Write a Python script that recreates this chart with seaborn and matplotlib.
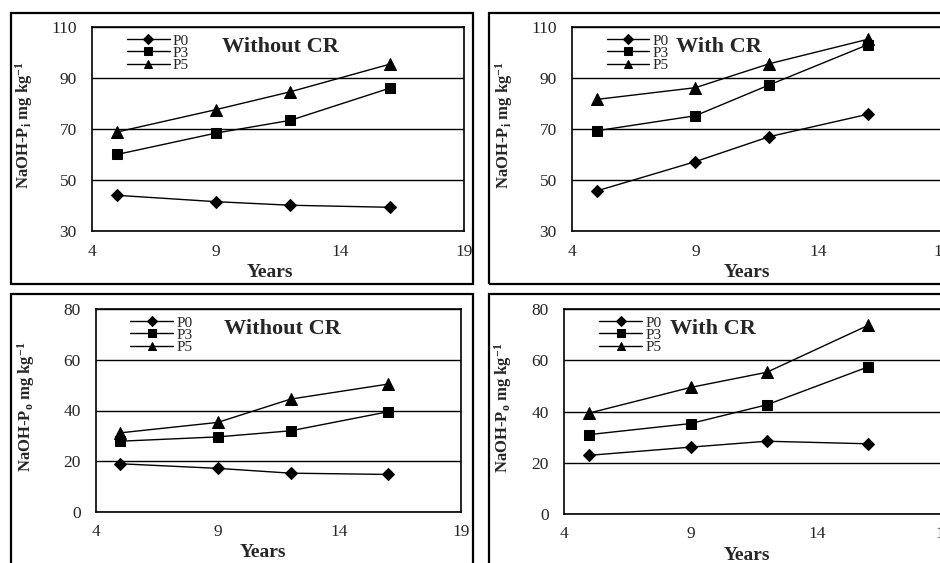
import numpy as np
import pandas as pd
import matplotlib
matplotlib.use("Agg")
import matplotlib.pyplot as plt
from matplotlib.patches import Rectangle
import seaborn as sns

# data
years = [5, 9, 12, 16]
series_names = ["P0", "P3", "P5"]

pi_without = {"P0": [44, 41.5, 40.1, 39.3],
              "P3": [60, 68.4, 73.4, 86],
              "P5": [68.8, 77.6, 84.6, 95.4]}
pi_with = {"P0": [45.7, 57.2, 67, 75.8],
           "P3": [69.3, 75.2, 87.3, 103.1],
           "P5": [81.6, 86.2, 95.6, 105.2]}
po_without = {"P0": [19, 17.2, 15.3, 14.8],
              "P3": [27.9, 29.6, 32, 39.5],
              "P5": [31.2, 35.3, 44.5, 50.4]}
po_with = {"P0": [22.9, 26.1, 28.4, 27.4],
           "P3": [31, 35.3, 42.6, 57.4],
           "P5": [39.4, 49.4, 55.3, 73.6]}

x_ticks = [4, 9, 14, 19]
pi_ticks = [30, 50, 70, 90, 110]
po_ticks = [0, 20, 40, 60, 80]

sns.set_style("white")
plt.rcParams["font.family"] = ["Liberation Serif", "DejaVu Serif"]
plt.rcParams["mathtext.fontset"] = "custom"
plt.rcParams["mathtext.rm"] = "Liberation Serif:bold"
plt.rcParams["mathtext.bf"] = "Liberation Serif:bold"
plt.rcParams["mathtext.it"] = "Liberation Serif:bold"

W, H = 940, 563
fig = plt.figure(figsize=(W / 100, H / 100), dpi=100)

markers = {"P0": "D", "P3": "s", "P5": "^"}
msizes = {"P0": 6, "P3": 7, "P5": 8}


def px_rect(x0, y0, x1, y1):
    return [x0 / W, 1 - y1 / H, (x1 - x0) / W, (y1 - y0) / H]


def frame_box(x0, y0, x1, y1):
    r = Rectangle((x0 / W, 1 - y1 / H), (x1 - x0) / W, (y1 - y0) / H,
                  transform=fig.transFigure, fill=False, ec="black", lw=1.6)
    fig.patches.append(r)


def panel(rect, data, yticks, ylabel, title, title_x, ylabel_px, years_px):
    ax = fig.add_axes(px_rect(*rect))
    df = pd.DataFrame([(y, v, s) for s in series_names
                       for y, v in zip(years, data[s])],
                      columns=["Years", "value", "series"])
    for s in series_names:
        sns.lineplot(data=df[df.series == s], x="Years", y="value", ax=ax,
                     color="black", marker=markers[s], markersize=msizes[s],
                     markeredgecolor="black", linewidth=1.0, label=s)
    ax.set_xlim(4, 19)
    ax.set_ylim(yticks[0], yticks[-1])
    ax.set_xticks(x_ticks)
    ax.set_yticks(yticks)
    ax.tick_params(axis="both", labelsize=12.5, direction="out", length=4,
                   width=1, color="black")
    ax.tick_params(axis="y", pad=7)
    ax.tick_params(axis="x", pad=5)
    ax.yaxis.grid(True, color="black", linewidth=1.0)
    for sp in ax.spines.values():
        sp.set_color("black")
        sp.set_linewidth(1.2)
    ax.set_xlabel("Years", fontsize=14, fontweight="bold")
    ax.xaxis.set_label_coords((years_px - rect[0]) / (rect[2] - rect[0]),
                              -0.16)
    ax.set_ylabel(ylabel, fontsize=12, fontweight="bold")
    # place y label centre at a fixed pixel column
    ax.yaxis.set_label_coords((ylabel_px - rect[0]) / (rect[2] - rect[0]), 0.52)
    ax.text(title_x, 0.9, title, transform=ax.transAxes, fontsize=16,
            fontweight="bold", va="center", ha="left")
    ax.legend(loc="upper left", bbox_to_anchor=(0.075, 1.0), frameon=False,
              fontsize=11, handlelength=2.8, handletextpad=0.2,
              labelspacing=-0.1, borderaxespad=0.2, borderpad=0.25,
              markerscale=0.8)
    return ax


frame_box(11, 13, 473, 284)
frame_box(489, 13, 962, 284)
frame_box(11, 294, 473, 590)
frame_box(489, 294, 962, 590)

panel((92, 27, 464, 231), pi_without, pi_ticks,
      r"NaOH-P$_{i}$ mg kg$^{-1}$", "Without CR", 0.35, 35, 270)
panel((572, 27, 942, 231), pi_with, pi_ticks,
      r"NaOH-P$_{i}$ mg kg$^{-1}$", "With CR", 0.28, 515, 747)
panel((96, 309, 461, 512), po_without, po_ticks,
      r"NaOH-P$_{o}$ mg kg$^{-1}$", "Without CR", 0.35, 37, 263)
panel((564, 309, 944, 514), po_with, po_ticks,
      r"NaOH-P$_{o}$ mg kg$^{-1}$", "With CR", 0.28, 514, 747)

fig.savefig("out.png", dpi=100)
